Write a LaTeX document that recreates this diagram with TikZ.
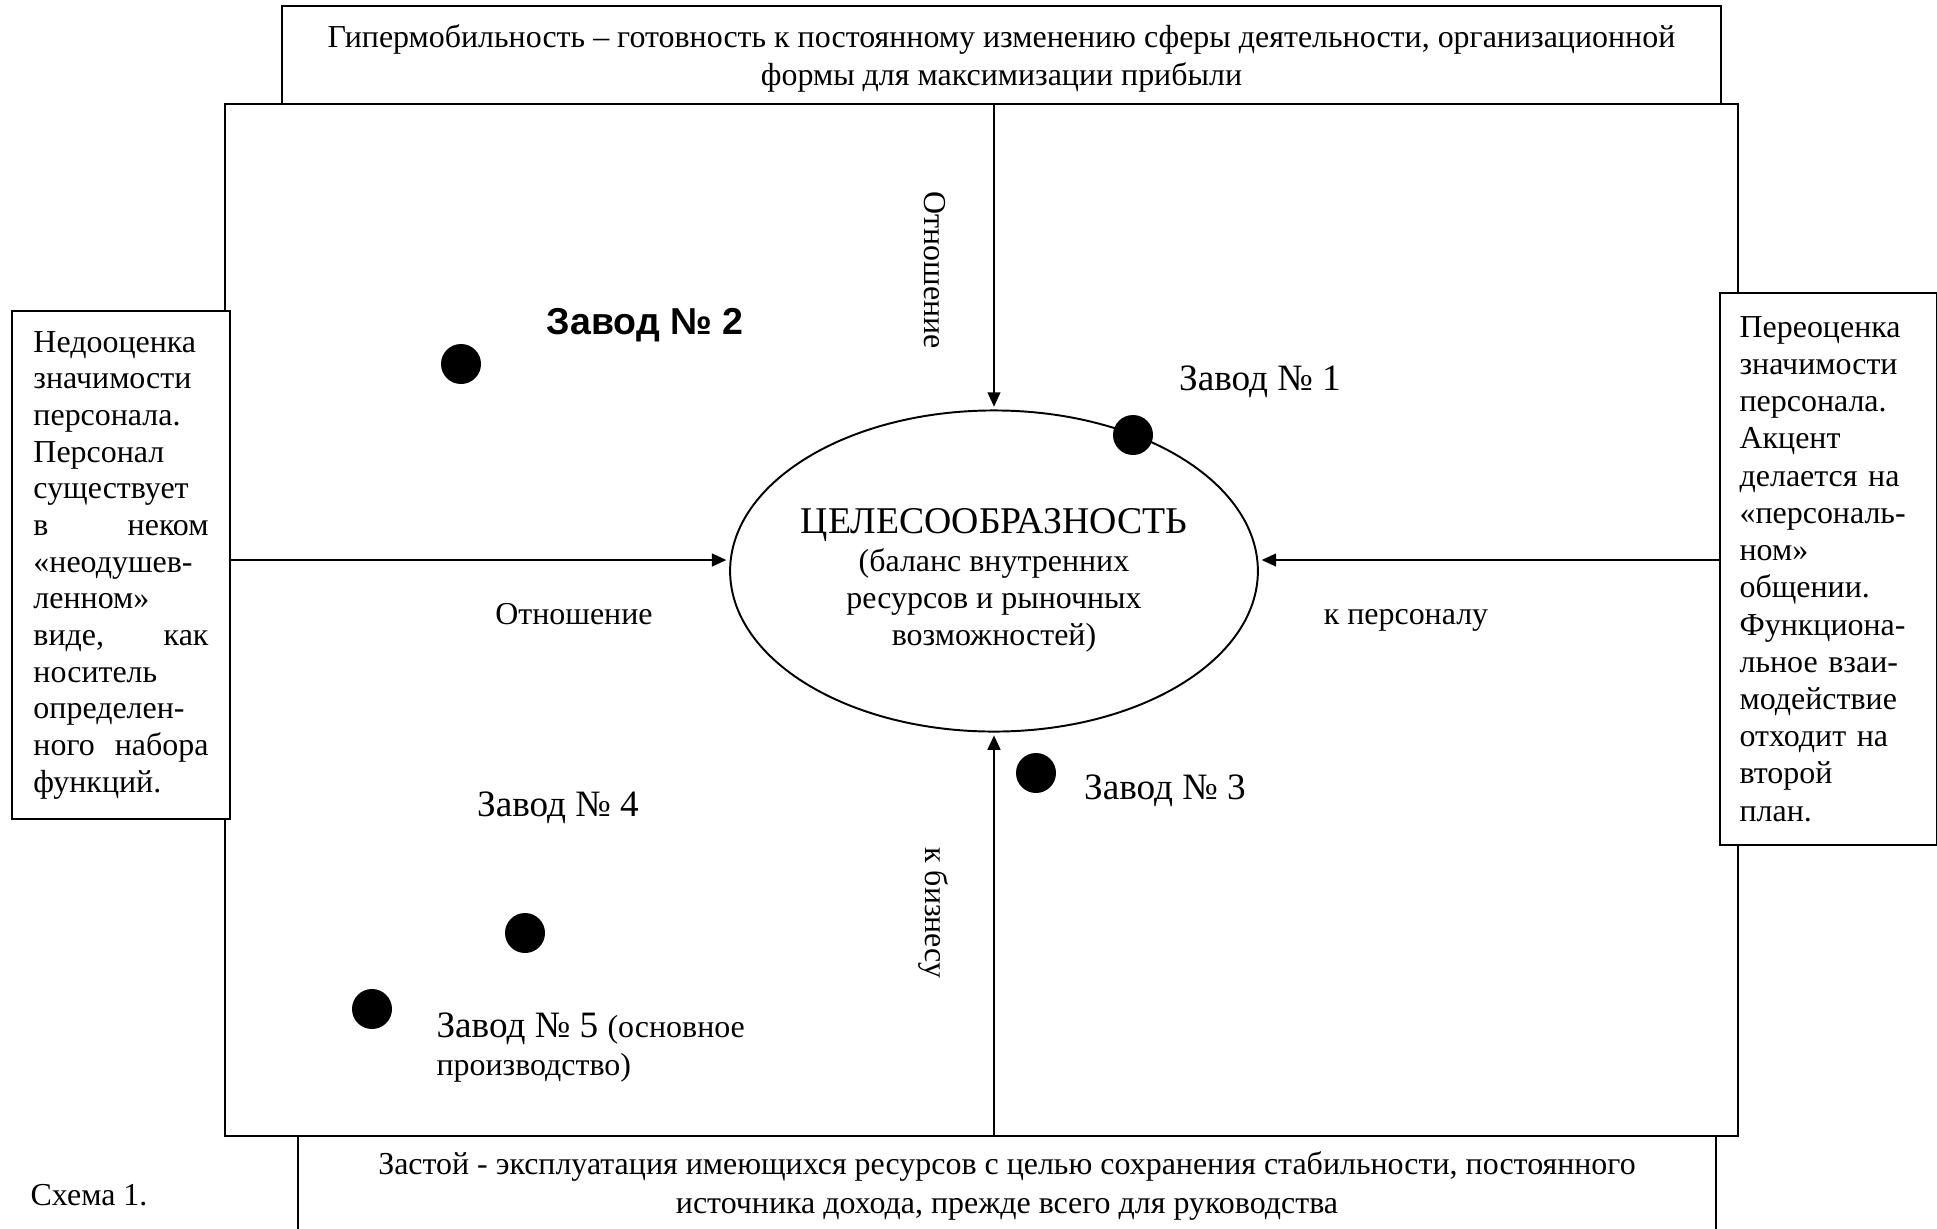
\documentclass[tikz,border=0pt]{standalone}
\usepackage{fontspec}
\setmainfont{Liberation Serif}
\newfontfamily\plantsans{Liberation Sans}
\usetikzlibrary{shapes.geometric,arrows.meta}

\tikzset{
	boxline/.style={draw,line width=0.7pt},
	sidebox/.style={boxline,fill=white,text width=64pt,inner xsep=7pt,inner ysep=0pt,align=left,font=\fontsize{11.5}{13.2}\selectfont},
	capbox/.style={boxline,fill=white,inner sep=0pt,align=center,font=\fontsize{11.5}{13.8}\selectfont},
	plant/.style={circle,fill=black,inner sep=0pt,minimum size=14.4pt},
	plantname/.style={inner sep=0pt,anchor=base,font=\fontsize{13.4}{13.8}\selectfont},
	axisname/.style={inner sep=0pt,font=\fontsize{11.5}{13.8}\selectfont},
	flow/.style={line width=0.7pt,-{Triangle[length=5.2pt,width=4.6pt]},shorten >=1pt},
}

\begin{document}
\begin{tikzpicture}[x=0.36pt,y=-0.36pt]
			\useasboundingbox (0,0) rectangle (1937,1229);
			\coordinate (c_field) at (981.5,620);
			\coordinate (c_goal) at (994,571);
			\coordinate (c_top) at (1001.5,55);
			\coordinate (c_bottom) at (1007,1186);
			\coordinate (arr_w) at (230,560);
			\coordinate (arr_e) at (1721,560);
			\node[boxline,minimum width=544.7pt,minimum height=371.5pt] (field) at (c_field) {};
			\node[capbox,minimum width=518pt,minimum height=35.3pt,text depth=-1.2pt] (hyper) at (c_top) {Гипермобильность – готовность к постоянному изменению сферы деятельности, организационной\\формы для максимизации прибыли};
			\node[capbox,minimum width=510.5pt,minimum height=36pt] (stasis) at (c_bottom) {Застой - эксплуатация имеющихся ресурсов с целью сохранения стабильности, постоянного\\источника дохода, прежде всего для руководства};
			\node[sidebox,minimum height=182.9pt,text width=63pt,inner xsep=7.75pt] (under) at (121,565) {Недооценка\\значимости\\персонала.\\Персонал\\существует\\в \hfill неком\\«неодушев-\\ленном»\\виде, \hfill как\\носитель\\определен-\\ного \hfill набора\\функций.};
			\node[sidebox,minimum height=199pt,font=\fontsize{11.5}{13.4}\selectfont] (over) at (1828.5,569) {Переоценка\\значимости\\персонала.\\Акцент\\делается на\\«персональ-\\ном»\\общении.\\Функциона-\\льное взаи-\\модействие\\отходит на\\второй\\план.};
			\node[draw,ellipse,line width=0.7pt,inner sep=0pt,minimum width=190pt,minimum height=115.6pt] (goal) at (c_goal) {};
			\node[align=center,inner sep=0pt,font=\fontsize{11.5}{13.3}\selectfont] (goal_text) at ([yshift=-3.4pt]goal.center) {{\fontsize{13.6}{13.3}\selectfont ЦЕЛЕСООБРАЗНОСТЬ}\\[0.4pt](баланс внутренних\\ресурсов и рыночных\\возможностей)};
			\draw[flow] (field.north -| goal.north) -- (goal.north);
			\draw[flow] (field.south -| goal.south) -- (goal.south);
			\draw[flow] (arr_w) -- (arr_w -| goal.west);
			\draw[flow] (arr_e) -- (arr_e -| goal.east);
			\node[axisname,rotate=-90] (rel_top) at (935,270) {Отношение};
			\node[axisname,rotate=-90] (rel_bottom) at (933,913) {к бизнесу};
			\node[axisname,anchor=base] (rel_left) at (574,624) {Отношение};
			\node[axisname,anchor=base] (rel_right) at (1406,624) {к персоналу};
			\node[plant] (z1) at (1133,435) {};
			\node[plant] (z2) at (461,364) {};
			\node[plant] (z3) at (1036,773) {};
			\node[plant] (z4) at (525,933) {};
			\node[plant] (z5) at (372,1009) {};
			\node[plantname] (z1_name) at (1260,390) {Завод № 1};
			\node[plantname,font=\fontsize{13.5}{16}\selectfont\plantsans\bfseries] (z2_name) at (645,334) {Завод № 2};
			\node[plantname] (z3_name) at (1165,799) {Завод № 3};
			\node[plantname] (z4_name) at (558,816) {Завод № 4};
			\node[plantname,anchor=north west,align=left] (z5_name) at (436,1012) {Завод № 5 {\fontsize{11.5}{13.8}\selectfont (основное}\\{\fontsize{11.5}{13.8}\selectfont производство)}};
			\node[axisname] (caption) at (89,1195) {Схема 1.};
		\end{tikzpicture}
\end{document}
